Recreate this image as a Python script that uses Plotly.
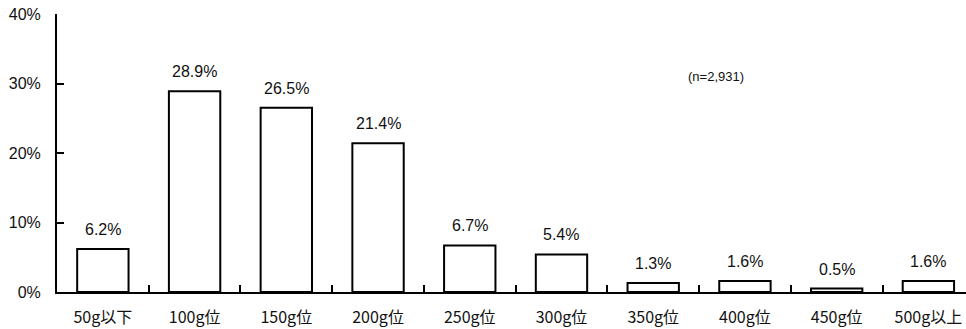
import plotly.graph_objects as go

categories = ["50g以下", "100g位", "150g位", "200g位", "250g位",
              "300g位", "350g位", "400g位", "450g位", "500g以上"]
shares = [6.2, 28.9, 26.5, 21.4, 6.7, 5.4, 1.3, 1.6, 0.5, 1.6]
y_ticks = [0, 10, 20, 30, 40]
y_tick_labels = ["0%", "10%", "20%", "30%", "40%"]
sample_note = "(n=2,931)"

fig = go.Figure()
fig.add_trace(go.Bar(
    x=categories,
    y=shares,
    width=0.56,
    marker=dict(color="white", line=dict(color="black", width=2)),
    hoverinfo="skip",
))

# value labels above each bar
for cat, val in zip(categories, shares):
    fig.add_annotation(
        x=cat, y=val, text=f"{val:.1f}%", showarrow=False,
        yanchor="bottom", yshift=9,
        font=dict(family="Liberation Sans, Arial", size=16, color="#111"),
    )

fig.add_annotation(
    x=6.68, y=31.0, text=sample_note, showarrow=False,
    xanchor="center", yanchor="middle",
    font=dict(family="Liberation Sans, Arial", size=13, color="#111"),
)

fig.update_layout(
    width=966, height=329,
    margin=dict(l=57, r=0, t=14, b=37),
    paper_bgcolor="white", plot_bgcolor="white",
    showlegend=False,
    bargap=0.44,
    xaxis=dict(
        type="category",
        range=[-0.5, 9.41],
        showline=True, linecolor="black", linewidth=2,
        ticks="inside", tickson="boundaries", ticklen=7, tickwidth=2, tickcolor="black",
        ticklabelstandoff=10,
        tickfont=dict(family="Noto Sans CJK JP", size=16, color="#111"),
        showgrid=False, zeroline=False,
    ),
    yaxis=dict(
        range=[0, 40],
        tickvals=y_ticks, ticktext=y_tick_labels,
        showline=True, linecolor="black", linewidth=2,
        ticks="inside", ticklen=7, tickwidth=2, tickcolor="black",
        ticklabelstandoff=11,
        tickfont=dict(family="Liberation Sans, Arial", size=16, color="#111"),
        showgrid=False, zeroline=False,
    ),
)

fig.write_html("out.html")
